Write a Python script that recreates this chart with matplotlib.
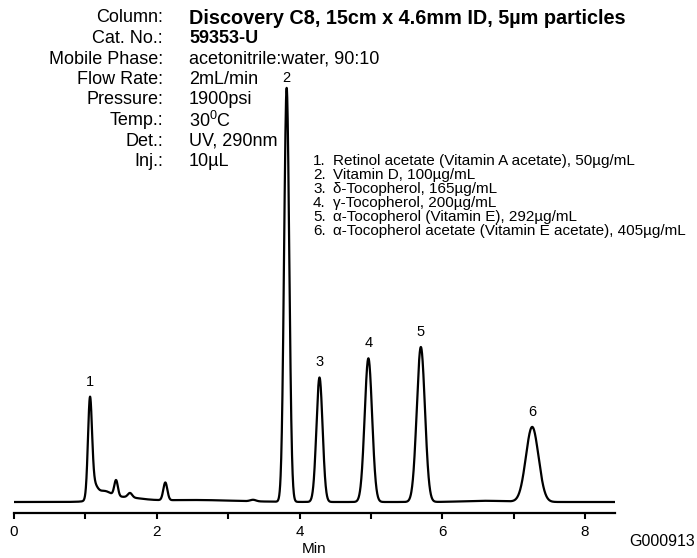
import numpy as np
import matplotlib
matplotlib.use("Agg")
import matplotlib.pyplot as plt

plt.rcParams['font.family'] = ['Liberation Sans', 'DejaVu Sans']
plt.rcParams['mathtext.default'] = 'regular'

W, H = 697, 558

# peak table (retention time in min, height, width)
peak_names = ["1", "2", "3", "4", "5", "6"]
peak_rt = [1.064, 3.82, 4.28, 4.965, 5.70, 7.26]
peak_height = [93.5, 414, 124.5, 143.7, 155, 75]
peak_sigma = [0.028, 0.036, 0.043, 0.052, 0.057, 0.088]

# unlabelled bumps, tailing of peak 1 and baseline drift
minor_rt = [1.11, 1.25, 1.5, 1.43, 1.625, 2.12, 2.5, 3.35, 6.6]
minor_height = [14, 8, 4.5, 15.7, 4.4, 17.7, 2, 1.5, 1.2]
minor_sigma = [0.05, 0.1, 0.25, 0.025, 0.03, 0.028, 0.6, 0.04, 0.3]

header_keys = ["Column:", "Cat. No.:", "Mobile Phase:", "Flow Rate:", "Pressure:",
               "Temp.:", "Det.:", "Inj.:"]
header_vals = ["Discovery C8, 15cm x 4.6mm ID, 5µm particles", "59353-U",
               "acetonitrile:water, 90:10", "2mL/min", "1900psi",
               "30$^{0}$C", "UV, 290nm", "10µL"]
legend_items = ["Retinol acetate (Vitamin A acetate), 50µg/mL",
                "Vitamin D, 100µg/mL",
                "δ-Tocopherol, 165µg/mL",
                "γ-Tocopherol, 200µg/mL",
                "α-Tocopherol (Vitamin E), 292µg/mL",
                "α-Tocopherol acetate (Vitamin E acetate), 405µg/mL"]

x_ticks = [0, 1, 2, 3, 4, 5, 6, 7, 8]
x_ticklabels = ["0", "", "2", "", "4", "", "6", "", "8"]


def px(x, y):
    return x / W, 1 - y / H


t = np.linspace(0, 8.42, 4000)
signal = np.zeros_like(t)
for rt, h, s in zip(peak_rt + minor_rt, peak_height + minor_height, peak_sigma + minor_sigma):
    signal += h * np.exp(-0.5 * ((t - rt) / s) ** 2)

fig = plt.figure(figsize=(W / 100, H / 100), dpi=100)
left, bottom = px(14, 513)
right, top = px(615, 60)
ax = fig.add_axes([left, bottom, right - left, top - bottom])

ax.plot(t, signal, color="black", lw=1.6)
ax.set_xlim(0, 8.42)
ax.set_ylim(-11, 442)

for s in ["top", "right", "left"]:
    ax.spines[s].set_visible(False)
ax.spines["bottom"].set_linewidth(1.6)
ax.set_yticks([])
ax.set_xticks(x_ticks)
ax.set_xticklabels(x_ticklabels, fontsize=11)
ax.set_xticks([0], minor=True)
ax.tick_params(axis="x", which="major", direction="out", length=4.5, width=1.5, pad=4)
ax.tick_params(axis="x", which="minor", direction="out", length=8, width=1.5)
ax.set_xlabel("Min", fontsize=11, labelpad=2)

for name, rt in zip(peak_names, peak_rt):
    ytop = np.interp(rt, t, signal)
    off = 11
    if name == "2":
        off = 7.5  # keep clear of the header lines
    ax.annotate(name, xy=(rt, ytop), xytext=(0, off), textcoords="offset points",
                ha="center", va="center", fontsize=10.5)

# method conditions
for i, (k, v) in enumerate(zip(header_keys, header_vals)):
    y = 18 + 20.5 * i
    size = 13
    if i == 0:
        size = 14.3
    fig.text(*px(163, y), k, ha="right", va="center", fontsize=13)
    fig.text(*px(189, y), v, ha="left", va="center", fontsize=size,
             fontweight="bold" if i < 2 else "normal")

# compound list
for i, item in enumerate(legend_items):
    y = 161 + 14 * i
    fig.text(*px(313, y), "%d." % (i + 1), ha="left", va="center", fontsize=11)
    fig.text(*px(333, y), item, ha="left", va="center", fontsize=11)

fig.text(*px(695, 541), "G000913", ha="right", va="center", fontsize=11.5)

fig.savefig("out.png", dpi=100)
